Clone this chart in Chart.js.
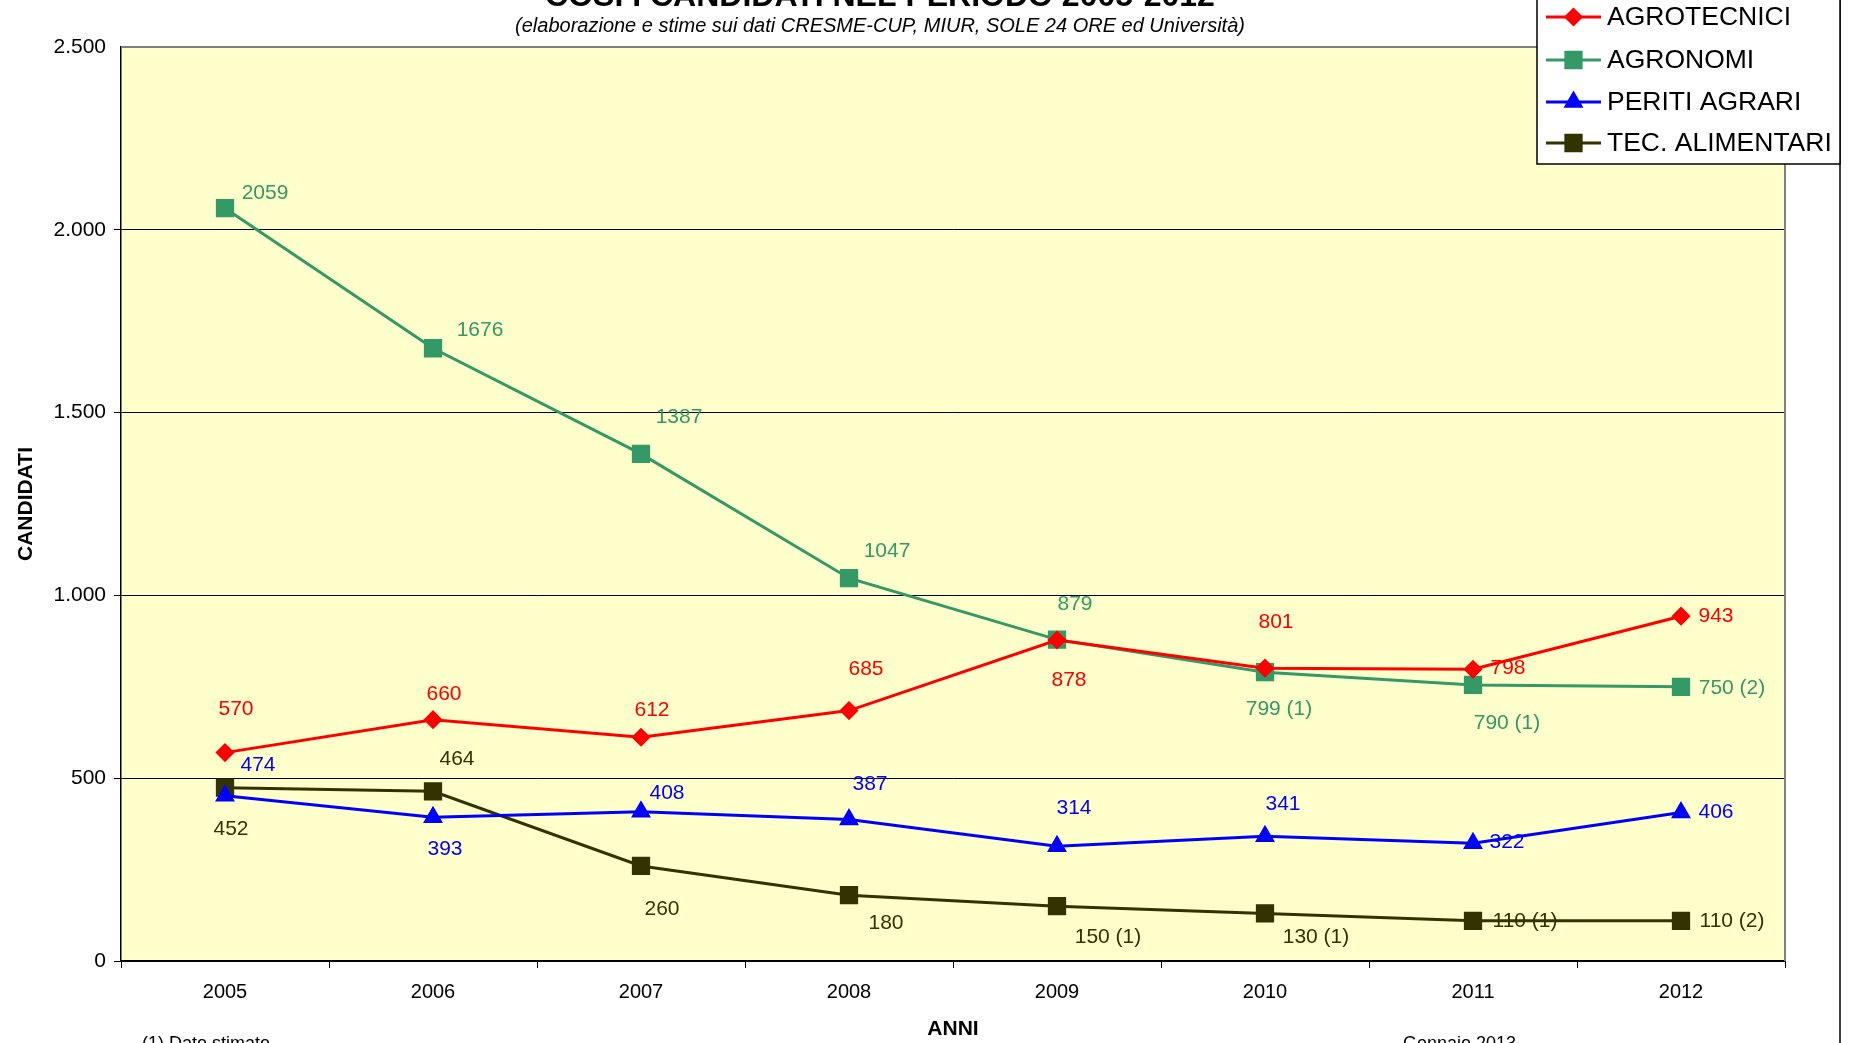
<!DOCTYPE html>
<html>
<head>
<meta charset="utf-8">
<script src="https://cdn.jsdelivr.net/npm/chart.js@4.4.1/dist/chart.umd.min.js"></script>
<style>
  html, body { margin: 0; padding: 0; background: #ffffff; }
  #wrap { width: 1854px; height: 1043px; position: relative; }
</style>
</head>
<body>
<div id="wrap"><canvas id="c" width="1854" height="1043"></canvas></div>
<script>
// ---------------- DATA ----------------
const years = ['2005', '2006', '2007', '2008', '2009', '2010', '2011', '2012'];

const agrotecnici = [570, 660, 612, 685, 878, 801, 798, 943];
const agronomi = [2059, 1676, 1387, 1047, 879, 790, 755, 750];
const peritiAgrari = [452, 393, 408, 387, 314, 341, 322, 406];
const tecAlimentari = [474, 464, 260, 180, 150, 130, 110, 110];

// data label texts as printed in the reference
const agrotecniciLabels = ['570', '660', '612', '685', '878', '801', '798', '943'];
const agronomiLabels = ['2059', '1676', '1387', '1047', '879', '799 (1)', '790 (1)', '750 (2)'];
const peritiLabels = ['474', '393', '408', '387', '314', '341', '322', '406'];
const tecLabels = ['452', '464', '260', '180', '150 (1)', '130 (1)', '110 (1)', '110 (2)'];

const yTicks = [0, 500, 1000, 1500, 2000, 2500];

const titleText = 'COSÌ I CANDIDATI NEL PERIODO 2005-2012';
const subtitleText = '(elaborazione e stime sui dati CRESME-CUP, MIUR, SOLE 24 ORE ed Università)';
const xTitle = 'ANNI';
const yTitle = 'CANDIDATI';
const footLeft = '(1) Dato stimato';
const footRight = 'Gennaio 2013';

// ---------------- STYLE ----------------
const FONT = '"Liberation Sans", Arial, Helvetica, sans-serif';
const C_RED = '#FF0000', C_GREEN = '#339966', C_BLUE = '#0000FF', C_BROWN = '#333300';

// label offsets (px, text centre relative to point)
const labelOffsets = [
  [[11,-43],[11,-26],[11,-27],[17,-41],[12,40],[11,-46],[35,-1],[35,0]],
  [[40,-15],[47,-18],[38,-37],[38,-27],[18,-35],[14,37],[34,38],[51,1]],
  [[33,-31],[12,32],[26,-19],[21,-35],[17,-38],[18,-32],[34,-1],[35,0]],
  [[6,41],[24,-32],[21,43],[37,28],[51,31],[51,24],[52,0],[51,0]]
];
const labelTexts = [agrotecniciLabels, agronomiLabels, peritiLabels, tecLabels];

function fmt(v) { return String(v).replace(/\B(?=(\d{3})+(?!\d))/g, '.'); }

const bgPlugin = {
  id: 'bgPlugin',
  beforeDraw(chart) {
    const {ctx, chartArea: a} = chart;
    ctx.save();
    ctx.fillStyle = '#ffffff';
    ctx.fillRect(0, 0, chart.width, chart.height);
    ctx.fillStyle = '#FFFFCC';
    ctx.fillRect(a.left, a.top, a.right - a.left, a.bottom - a.top);
    ctx.restore();
  },
  beforeDatasetsDraw(chart) {
    const {ctx, chartArea: a} = chart;
    ctx.save();
    ctx.strokeStyle = '#808080';
    ctx.lineWidth = 2;
    ctx.beginPath();
    ctx.moveTo(a.left, a.top);
    ctx.lineTo(a.right, a.top);
    ctx.lineTo(a.right, a.bottom);
    ctx.stroke();
    ctx.restore();
  },
  afterDatasetsDraw(chart) {
    const {ctx} = chart;
    ctx.save();
    ctx.font = '21px ' + FONT;
    ctx.textAlign = 'center';
    ctx.textBaseline = 'middle';
    chart.data.datasets.forEach((ds, i) => {
      const meta = chart.getDatasetMeta(i);
      meta.data.forEach((pt, j) => {
        const off = labelOffsets[i][j];
        ctx.fillStyle = ds.borderColor;
        ctx.fillText(labelTexts[i][j], pt.x + off[0], pt.y + off[1]);
      });
    });
    ctx.restore();
  },
  afterDraw(chart) {
    const {ctx} = chart;
    ctx.save();
    // title (cut at top)
    ctx.fillStyle = '#000';
    ctx.textAlign = 'center';
    ctx.textBaseline = 'alphabetic';
    ctx.font = 'bold 32px ' + FONT;
    ctx.fillText(titleText, 880, 6);
    ctx.font = 'italic 20px ' + FONT;
    ctx.fillText(subtitleText, 880, 32);
    // footnotes (cut at bottom)
    ctx.textAlign = 'left';
    ctx.textBaseline = 'top';
    ctx.font = '18px ' + FONT;
    ctx.fillText(footLeft, 142, 1035);
    ctx.fillText(footRight, 1403, 1035);
    // right border of chart area
    ctx.strokeStyle = '#000';
    ctx.lineWidth = 1.5;
    ctx.beginPath();
    ctx.moveTo(1840, 0);
    ctx.lineTo(1840, 1043);
    ctx.stroke();
    // legend
    const lx = 1537, ly = -2, lw = 303, lh = 166;
    ctx.fillStyle = '#ffffff';
    ctx.fillRect(lx, ly, lw, lh);
    ctx.strokeStyle = '#000';
    ctx.lineWidth = 1.5;
    ctx.strokeRect(lx, ly, lw, lh);
    const rows = [17, 60, 102, 143];
    ctx.font = '26.5px ' + FONT;
    ctx.textBaseline = 'middle';
    chart.data.datasets.forEach((ds, i) => {
      const y = rows[i];
      ctx.strokeStyle = ds.borderColor;
      ctx.lineWidth = 3;
      ctx.beginPath();
      ctx.moveTo(1546, y);
      ctx.lineTo(1601, y);
      ctx.stroke();
      ctx.fillStyle = ds.borderColor;
      Chart.helpers.drawPoint(ctx, {pointStyle: ds.pointStyle, radius: ds.pointRadius, borderWidth: 1, rotation: 0}, 1573.5, y);
      ctx.fill();
      ctx.fillStyle = '#000';
      ctx.textAlign = 'left';
      ctx.fillText(ds.label, 1607, y + 1);
    });
    ctx.restore();
  }
};

const mk = (label, data, color, style, r) => ({
  label, data,
  borderColor: color, backgroundColor: color,
  pointBackgroundColor: color, pointBorderColor: color,
  pointStyle: style, pointRadius: r, pointHoverRadius: r,
  borderWidth: 3, tension: 0, fill: false
});

new Chart(document.getElementById('c'), {
  type: 'line',
  data: {
    labels: years,
    datasets: [
      mk('AGROTECNICI', agrotecnici, C_RED, 'rectRot', 7.5),
      mk('AGRONOMI', agronomi, C_GREEN, 'rect', 10.8),
      mk('PERITI AGRARI', peritiAgrari, C_BLUE, 'triangle', 8.5),
      mk('TEC. ALIMENTARI', tecAlimentari, C_BROWN, 'rect', 10.8)
    ]
  },
  options: {
    responsive: false,
    devicePixelRatio: 1,
    animation: false,
    layout: { padding: { top: 47, right: 69, left: 0, bottom: 0 } },
    plugins: { legend: { display: false }, tooltip: { enabled: false }, title: { display: false } },
    scales: {
      x: {
        offset: true,
        grid: { offset: true, drawOnChartArea: false, drawTicks: true, tickLength: 7, color: '#000', lineWidth: 1 },
        border: { color: '#000', width: 1.5 },
        ticks: { color: '#000', font: { family: FONT, size: 20 }, padding: 12, maxRotation: 0 },
        title: { display: true, text: xTitle, color: '#000', font: { family: FONT, size: 21, weight: 'bold' }, padding: { top: 0, bottom: 1 } },
        afterFit(s) { s.height = 82; }
      },
      y: {
        min: 0, max: 2500,
        afterBuildTicks(s) { s.ticks = yTicks.map(v => ({ value: v })); },
        grid: {
          color: (c) => (c.tick && c.tick.value === 2500) ? 'rgba(0,0,0,0)' : '#000',
          lineWidth: 1, tickLength: 7, drawTicks: true
        },
        border: { color: '#000', width: 1.5 },
        ticks: { color: '#000', font: { family: FONT, size: 21 }, padding: 8, callback: (v) => fmt(v) },
        title: { display: true, text: yTitle, color: '#000', font: { family: FONT, size: 21, weight: 'bold' }, padding: { top: 14, bottom: 0 } },
        afterFit(s) { s.width = 121; }
      }
    }
  },
  plugins: [bgPlugin]
});
</script>
</body>
</html>
